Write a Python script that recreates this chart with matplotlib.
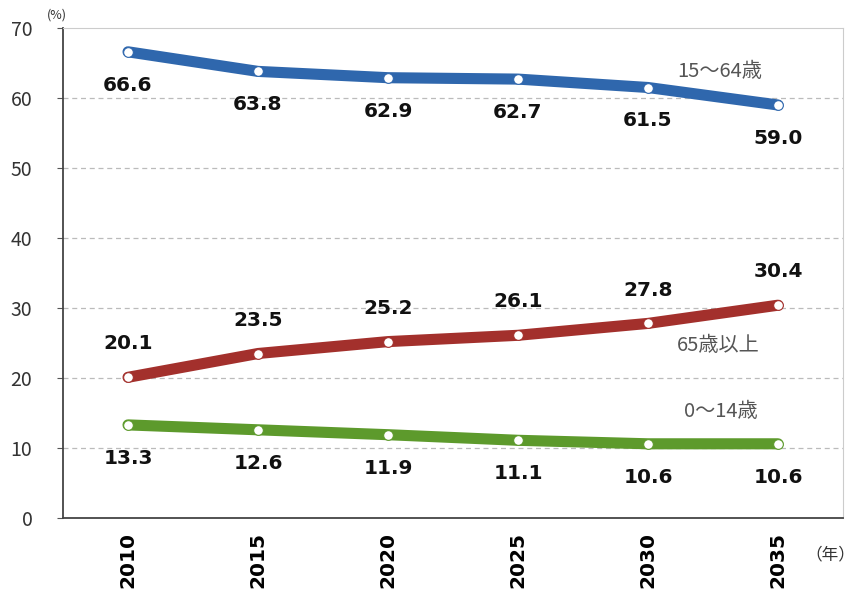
import matplotlib
matplotlib.use('agg')
import matplotlib.pyplot as plt
import numpy as np

plt.rcParams['font.family'] = ['Noto Sans CJK JP', 'DejaVu Sans']

years = ['2010', '2015', '2020', '2025', '2030', '2035']
working = [66.6, 63.8, 62.9, 62.7, 61.5, 59.0]   # 15~64
elderly = [20.1, 23.5, 25.2, 26.1, 27.8, 30.4]   # 65+
children = [13.3, 12.6, 11.9, 11.1, 10.6, 10.6]  # 0~14
yticks = [0, 10, 20, 30, 40, 50, 60, 70]

fig = plt.figure(figsize=(8.62, 5.94), dpi=100)
ax = fig.add_axes([63/862, 1-518/594, 780/862, 490/594])
x = np.arange(len(years))

series = [
    (working, '#2f67ad', -1, '15〜64歳', (4.88, 63.8)),
    (elderly, '#a3302c', 1, '65歳以上', (4.86, 24.7)),
    (children, '#5d9a2c', -1, '0〜14歳', (4.84, 15.2)),
]
for vals, col, side, name, pos in series:
    ax.plot(x, vals, color=col, lw=8, solid_capstyle='round', zorder=3)
    ax.plot(x, vals, ls='none', marker='o', ms=7, mfc='white', mec=col, mew=0.8, zorder=4)
    for xi, v in zip(x, vals):
        ax.annotate(f'{v:.1f}', (xi, v), xytext=(0, 24*side), textcoords='offset points',
                    ha='center', va='center', fontsize=14.5, fontweight='bold',
                    family=['DejaVu Sans'], color='#111111')
    ax.text(pos[0], pos[1], name, ha='right', va='center', fontsize=14.5, color='#555555')

ax.set_xlim(-0.5, 5.5)
ax.set_ylim(0, 70)
ax.set_yticks(yticks)
ax.set_yticklabels([str(t) for t in yticks], fontsize=14, color='#333333')
ax.set_xticks(x)
ax.set_xticklabels(years, rotation=90, fontsize=14.5, fontweight='bold', family=['DejaVu Sans'])
ax.tick_params(axis='x', length=0, pad=10)
ax.tick_params(axis='y', length=4, color='#555555', pad=18)
for yv in yticks[1:-1]:
    ax.axhline(yv, color='#bbbbbb', lw=0.9, ls=(0, (4, 3)), zorder=1)
ax.spines['left'].set_color('#444444')
ax.spines['bottom'].set_color('#444444')
ax.spines['left'].set_linewidth(1.3)
ax.spines['bottom'].set_linewidth(1.3)
ax.spines['top'].set_color('#cccccc')
ax.spines['right'].set_color('#cccccc')

fig.text(57/862, 1-15/594, '(%)', fontsize=9, ha='center', va='center', color='#333333')
fig.text(830/862, 1-555/594, '（年）', fontsize=12, ha='center', va='center', color='#333333')

fig.savefig('out.png', dpi=100)
